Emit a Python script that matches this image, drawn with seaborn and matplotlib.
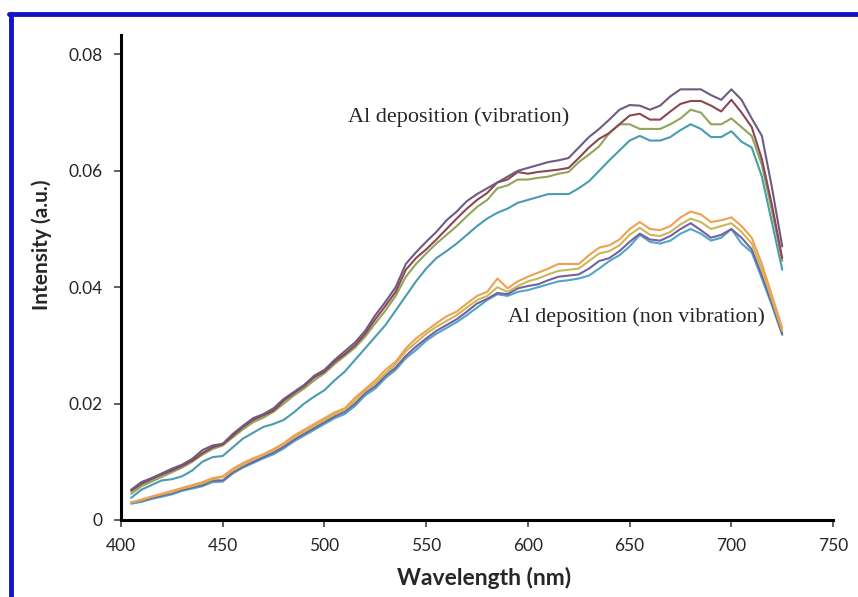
import numpy as np
import pandas as pd
import matplotlib.pyplot as plt
from matplotlib.lines import Line2D
import seaborn as sns

# wavelength grid (nm)
wavelength = list(range(405, 730, 5))

# Al deposition (vibration)
vib_1 = [.0052, .0065, .0072, .0080, .0088, .0095, .0105, .0120, .0128, .0131,
         .0148, .0162, .0175, .0182, .0192, .0208, .0220, .0232, .0248, .0258,
         .0275, .0290, .0305, .0325, .0352, .0375, .0400, .0440, .0460, .0478,
         .0495, .0515, .0530, .0548, .0560, .0570, .0580, .0590, .0600, .0605,
         .0610, .0615, .0618, .0622, .0640, .0658, .0672, .0688, .0705, .0713,
         .0712, .0705, .0712, .0728, .0740, .0740, .0740, .0730, .0722, .0740,
         .0722, .0690, .0660, .0570, .0470]
vib_2 = [.0050, .0062, .0070, .0078, .0085, .0093, .0102, .0115, .0125, .0130,
         .0145, .0160, .0172, .0180, .0188, .0205, .0218, .0230, .0245, .0255,
         .0272, .0285, .0300, .0320, .0345, .0368, .0392, .0430, .0450, .0465,
         .0482, .0500, .0518, .0535, .0550, .0562, .0580, .0585, .0598, .0595,
         .0598, .0600, .0602, .0605, .0622, .0640, .0655, .0665, .0680, .0695,
         .0698, .0688, .0688, .0702, .0715, .0720, .0720, .0712, .0702, .0722,
         .0700, .0675, .0620, .0540, .0450]
vib_3 = [.0045, .0058, .0066, .0074, .0082, .0090, .0100, .0112, .0122, .0128,
         .0142, .0156, .0168, .0176, .0186, .0200, .0214, .0226, .0240, .0252,
         .0268, .0282, .0296, .0315, .0338, .0360, .0385, .0418, .0440, .0458,
         .0475, .0490, .0505, .0522, .0538, .0550, .0570, .0575, .0585, .0585,
         .0588, .0590, .0595, .0598, .0615, .0628, .0642, .0665, .0680, .0680,
         .0672, .0672, .0672, .0680, .0690, .0705, .0700, .0680, .0680, .0690,
         .0675, .0660, .0610, .0530, .0445]
vib_4 = [.0038, .0052, .0060, .0068, .0070, .0075, .0085, .0100, .0108, .0110,
         .0125, .0140, .0150, .0160, .0165, .0172, .0185, .0200, .0212, .0223,
         .0240, .0255, .0275, .0295, .0315, .0335, .0360, .0385, .0410, .0432,
         .0450, .0462, .0475, .0490, .0505, .0518, .0528, .0535, .0545, .0550,
         .0555, .0560, .0560, .0560, .0570, .0582, .0600, .0618, .0635, .0652,
         .0660, .0652, .0652, .0658, .0670, .0680, .0672, .0658, .0658, .0668,
         .0650, .0640, .0590, .0510, .0430]

# Al deposition (non vibration)
non_1 = [.0030, .0035, .0040, .0045, .0050, .0055, .0060, .0065, .0072, .0075,
         .0088, .0098, .0106, .0113, .0122, .0132, .0145, .0155, .0165, .0175,
         .0185, .0192, .0210, .0225, .0240, .0258, .0272, .0295, .0312, .0325,
         .0338, .0350, .0358, .0372, .0385, .0392, .0415, .0398, .0410, .0418,
         .0425, .0432, .0440, .0440, .0440, .0455, .0468, .0472, .0482, .0500,
         .0512, .0500, .0498, .0505, .0520, .0530, .0525, .0512, .0515, .0520,
         .0505, .0485, .0440, .0385, .0330]
non_2 = [.0030, .0034, .0040, .0044, .0048, .0054, .0058, .0063, .0070, .0074,
         .0085, .0095, .0104, .0112, .0120, .0130, .0142, .0152, .0162, .0172,
         .0182, .0190, .0205, .0222, .0235, .0252, .0268, .0290, .0305, .0320,
         .0332, .0342, .0352, .0365, .0378, .0385, .0400, .0392, .0402, .0410,
         .0415, .0422, .0428, .0430, .0432, .0445, .0458, .0462, .0472, .0490,
         .0502, .0490, .0488, .0495, .0508, .0518, .0512, .0500, .0505, .0510,
         .0495, .0475, .0430, .0378, .0325]
non_3 = [.0030, .0033, .0038, .0042, .0046, .0052, .0056, .0060, .0068, .0068,
         .0082, .0092, .0100, .0108, .0116, .0126, .0138, .0148, .0158, .0168,
         .0178, .0186, .0200, .0218, .0230, .0248, .0262, .0282, .0298, .0312,
         .0325, .0335, .0345, .0358, .0372, .0380, .0390, .0388, .0398, .0402,
         .0405, .0412, .0418, .0420, .0422, .0432, .0445, .0450, .0462, .0478,
         .0492, .0482, .0480, .0488, .0500, .0510, .0498, .0485, .0490, .0500,
         .0485, .0465, .0420, .0372, .0320]
non_4 = [.0028, .0031, .0036, .0040, .0044, .0050, .0054, .0058, .0065, .0066,
         .0080, .0090, .0098, .0106, .0113, .0123, .0135, .0145, .0155, .0165,
         .0175, .0182, .0196, .0214, .0226, .0244, .0258, .0278, .0292, .0308,
         .0320, .0330, .0340, .0352, .0365, .0378, .0388, .0385, .0392, .0395,
         .0400, .0405, .0410, .0412, .0415, .0420, .0432, .0445, .0455, .0470,
         .0490, .0478, .0475, .0480, .0492, .0500, .0492, .0480, .0485, .0500,
         .0475, .0460, .0415, .0368, .0318]

series = {'v1': vib_1, 'v2': vib_2, 'v3': vib_3, 'v4': vib_4,
          'n1': non_1, 'n2': non_2, 'n3': non_3, 'n4': non_4}
colors = {'v1': '#6E5A82', 'v2': '#8E4654', 'v3': '#8FA65A', 'v4': '#4A9BB0',
          'n4': '#50A6C8', 'n3': '#7462A0', 'n2': '#C9B85A', 'n1': '#F0A050'}

df = pd.DataFrame({'Wavelength': wavelength, **series})
df = df.melt(id_vars='Wavelength', var_name='Series', value_name='Intensity')

sns.set_style('ticks')
plt.rcParams['font.family'] = ['Lato', 'DejaVu Sans']

fig = plt.figure(figsize=(8.58, 5.97), dpi=100)
ax = fig.add_axes([0.141, 0.129, 0.830, 0.812])

# draw order: non vibration first, vibration on top
order = ['n4', 'n3', 'n2', 'n1', 'v4', 'v3', 'v2', 'v1']
sns.lineplot(data=df, x='Wavelength', y='Intensity', hue='Series',
             hue_order=order, palette=colors, linewidth=1.5, legend=False, ax=ax)

ax.set_xlim(400, 750)
ax.set_ylim(0, 0.0833)
ax.set_xticks([400, 450, 500, 550, 600, 650, 700, 750])
ax.set_yticks([0, 0.02, 0.04, 0.06, 0.08])
ax.set_yticklabels(['0', '0.02', '0.04', '0.06', '0.08'])
ax.tick_params(axis='both', labelsize=12.5, length=5, width=1.2, pad=8, color='#444444')
sns.despine(ax=ax)
for s in ['left', 'bottom']:
    ax.spines[s].set_linewidth(2.2)
    ax.spines[s].set_color('black')

ax.set_xlabel('Wavelength (nm)', fontsize=16.5, fontweight='bold', va='center')
ax.set_ylabel('Intensity (a.u.)', fontsize=15, fontweight='bold', va='center')
ax.xaxis.set_label_coords(0.51, -0.12)
ax.yaxis.set_label_coords(-0.111, 0.567)

ax.text(511.5, 0.0692, 'Al deposition (vibration)', fontsize=16,
        family='Liberation Serif', va='center', ha='left')
ax.text(590, 0.0349, 'Al deposition (non vibration)', fontsize=15.8,
        family='Liberation Serif', va='center', ha='left')

# blue frame (left and top edges visible)
fig.add_artist(Line2D([0.013, 0.013], [0, 0.977], transform=fig.transFigure,
                      color='#1414C4', linewidth=3.5))
fig.add_artist(Line2D([0.011, 1.0], [0.977, 0.977], transform=fig.transFigure,
                      color='#1414C4', linewidth=3.5))

fig.savefig('out.png', dpi=100)
